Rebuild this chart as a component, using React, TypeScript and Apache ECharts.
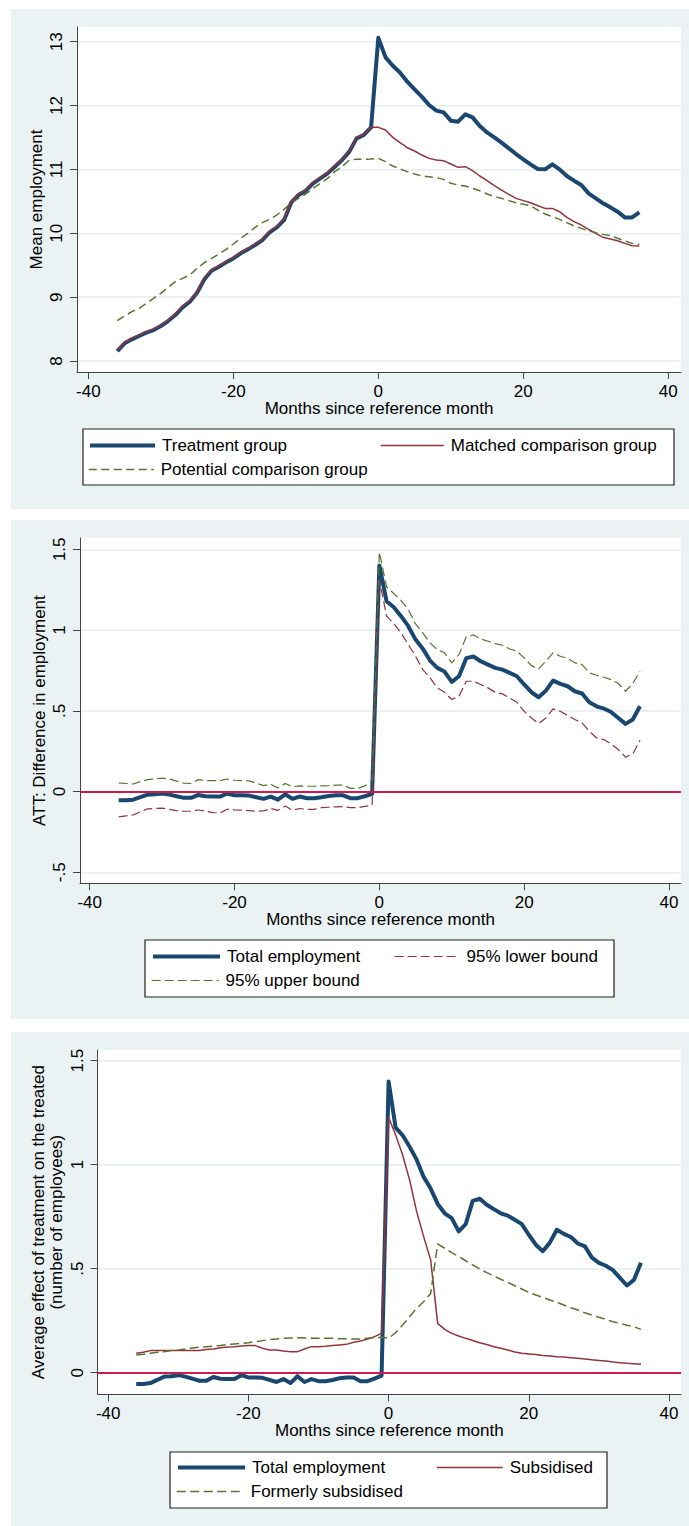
import React, { useEffect, useRef } from "react";
import * as echarts from "echarts";

// ---------- data ----------
const months = [
  -36, -35, -34, -33, -32, -31, -30, -29, -28, -27, -26, -25, -24, -23, -22, -21, -20, -19,
  -18, -17, -16, -15, -14, -13, -12, -11, -10, -9, -8, -7, -6, -5, -4, -3, -2, -1,
  0, 1, 2, 3, 4, 5, 6, 7, 8, 9, 10, 11, 12, 13, 14, 15, 16, 17, 18,
  19, 20, 21, 22, 23, 24, 25, 26, 27, 28, 29, 30, 31, 32, 33, 34, 35, 36,
];
const xTicks = [-40, -20, 0, 20, 40];
const p1YTicks = [8, 9, 10, 11, 12, 13];
const p2YTicks = [-0.5, 0, 0.5, 1, 1.5];
const p3YTicks = [0, 0.5, 1, 1.5];

// Panel 1: mean employment
const treatment = [
  8.156, 8.277, 8.339, 8.391, 8.444, 8.485, 8.548, 8.626, 8.72, 8.84, 8.929, 9.07, 9.279, 9.414,
  9.477, 9.545, 9.607, 9.686, 9.748, 9.816, 9.894, 10.015, 10.093, 10.208, 10.484, 10.599, 10.667,
  10.782, 10.86, 10.938, 11.043, 11.147, 11.278, 11.486, 11.539, 11.659,
  13.06, 12.755, 12.624, 12.515, 12.374, 12.254, 12.139, 12.008, 11.92, 11.893, 11.763, 11.747,
  11.862, 11.815, 11.68, 11.58, 11.502, 11.419, 11.33, 11.241, 11.158, 11.079, 11.006, 11.001,
  11.079, 11.001, 10.897, 10.824, 10.756, 10.625, 10.547, 10.469, 10.406, 10.338, 10.249, 10.249, 10.328,
];
const matched = [
  8.17, 8.29, 8.36, 8.41, 8.46, 8.5, 8.56, 8.64, 8.74, 8.86, 8.94, 9.08, 9.3, 9.43, 9.49, 9.56,
  9.62, 9.7, 9.76, 9.83, 9.91, 10.03, 10.11, 10.22, 10.5, 10.61, 10.68, 10.8, 10.87, 10.95, 11.06,
  11.16, 11.29, 11.5, 11.55, 11.66,
  11.659, 11.617, 11.502, 11.419, 11.34, 11.288, 11.225, 11.173, 11.147, 11.137, 11.085, 11.033,
  11.043, 10.98, 10.897, 10.824, 10.745, 10.677, 10.61, 10.547, 10.511, 10.479, 10.432, 10.39,
  10.39, 10.338, 10.249, 10.182, 10.129, 10.061, 9.999, 9.937, 9.911, 9.884, 9.842, 9.806, 9.801,
];
const potential = [
  8.632, 8.705, 8.773, 8.826, 8.903, 8.981, 9.059, 9.153, 9.242, 9.294, 9.347, 9.451, 9.54, 9.607,
  9.675, 9.748, 9.832, 9.92, 9.999, 10.093, 10.166, 10.218, 10.286, 10.375, 10.479, 10.547, 10.615,
  10.704, 10.782, 10.86, 10.965, 11.043, 11.147, 11.158, 11.158, 11.163,
  11.173, 11.121, 11.053, 11.006, 10.965, 10.928, 10.897, 10.886, 10.871, 10.844, 10.782, 10.756,
  10.74, 10.704, 10.667, 10.615, 10.573, 10.547, 10.511, 10.479, 10.453, 10.432, 10.364, 10.302,
  10.26, 10.218, 10.166, 10.114, 10.077, 10.04, 10.009, 9.983, 9.962, 9.921, 9.879, 9.842, 9.827,
];

// Panel 2 & 3: ATT on total employment, confidence bounds, components
const totalEmp = [
  -0.054, -0.054, -0.05, -0.035, -0.019, -0.017, -0.012, -0.019, -0.029, -0.039, -0.039, -0.021,
  -0.029, -0.031, -0.031, -0.012, -0.023, -0.023, -0.025, -0.035, -0.045, -0.031, -0.05, -0.017,
  -0.045, -0.031, -0.041, -0.041, -0.035, -0.027, -0.023, -0.023, -0.041, -0.041, -0.029, -0.014,
  1.4, 1.178, 1.141, 1.086, 1.024, 0.941, 0.885, 0.811, 0.766, 0.743, 0.679, 0.714, 0.826, 0.836,
  0.807, 0.786, 0.766, 0.755, 0.735, 0.714, 0.663, 0.615, 0.584, 0.625, 0.687, 0.667, 0.652, 0.621,
  0.607, 0.553, 0.528, 0.514, 0.493, 0.456, 0.419, 0.446, 0.528,
];
const upper95 = [
  0.054, 0.05, 0.047, 0.062, 0.074, 0.078, 0.083, 0.078, 0.065, 0.052, 0.05, 0.074, 0.068, 0.068,
  0.068, 0.078, 0.07, 0.068, 0.066, 0.052, 0.037, 0.045, 0.023, 0.05, 0.03, 0.035, 0.033, 0.033,
  0.035, 0.037, 0.04, 0.04, 0.02, 0.019, 0.035, 0.064,
  1.482, 1.267, 1.226, 1.183, 1.127, 1.038, 0.982, 0.921, 0.879, 0.859, 0.797, 0.848, 0.958, 0.97,
  0.945, 0.931, 0.916, 0.906, 0.883, 0.869, 0.828, 0.78, 0.76, 0.807, 0.859, 0.838, 0.824, 0.797,
  0.786, 0.735, 0.72, 0.708, 0.693, 0.669, 0.621, 0.669, 0.745,
];
const lower95 = [
  -0.157, -0.15, -0.145, -0.125, -0.107, -0.105, -0.103, -0.11, -0.118, -0.122, -0.122, -0.114,
  -0.122, -0.13, -0.132, -0.11, -0.113, -0.115, -0.118, -0.122, -0.12, -0.105, -0.116, -0.09,
  -0.115, -0.105, -0.11, -0.11, -0.1, -0.097, -0.095, -0.093, -0.1, -0.1, -0.092, -0.085,
  1.31, 1.086, 1.04, 0.982, 0.91, 0.838, 0.755, 0.704, 0.642, 0.615, 0.57, 0.59, 0.683, 0.683,
  0.663, 0.642, 0.615, 0.605, 0.58, 0.553, 0.497, 0.456, 0.421, 0.456, 0.512, 0.497, 0.471, 0.446,
  0.425, 0.374, 0.332, 0.322, 0.295, 0.26, 0.213, 0.233, 0.318,
];
const subsidised = [
  0.093, 0.098, 0.106, 0.107, 0.106, 0.106, 0.106, 0.106, 0.106, 0.107, 0.111, 0.114, 0.12, 0.123,
  0.125, 0.128, 0.13, 0.13, 0.117, 0.109, 0.109, 0.104, 0.101, 0.101, 0.114, 0.125, 0.125, 0.127,
  0.13, 0.133, 0.136, 0.146, 0.152, 0.162, 0.173, 0.189,
  1.228, 1.143, 1.046, 0.926, 0.774, 0.654, 0.542, 0.237, 0.208, 0.189, 0.176, 0.165, 0.155, 0.144,
  0.135, 0.125, 0.117, 0.109, 0.099, 0.093, 0.09, 0.087, 0.083, 0.08, 0.077, 0.075, 0.072, 0.069,
  0.066, 0.062, 0.059, 0.056, 0.051, 0.048, 0.045, 0.043, 0.04,
];
const formerly = [
  0.085, 0.088, 0.093, 0.098, 0.101, 0.106, 0.109, 0.114, 0.119, 0.122, 0.125, 0.128, 0.131, 0.135,
  0.138, 0.141, 0.144, 0.149, 0.154, 0.159, 0.162, 0.165, 0.167, 0.168, 0.167, 0.165, 0.165, 0.165,
  0.165, 0.163, 0.163, 0.162, 0.162, 0.165, 0.168, 0.17,
  0.165, 0.192, 0.229, 0.269, 0.309, 0.341, 0.381, 0.619, 0.598, 0.577, 0.558, 0.538, 0.518, 0.498,
  0.481, 0.465, 0.449, 0.434, 0.418, 0.402, 0.386, 0.373, 0.362, 0.349, 0.338, 0.325, 0.312, 0.301,
  0.288, 0.277, 0.266, 0.256, 0.245, 0.237, 0.228, 0.221, 0.208,
];

// ---------- styling ----------
const FONT = '"Liberation Sans", Arial, Helvetica, sans-serif';
const NAVY = "#1A476F";
const MAROON = "#90353B";
const GREEN = "#55752F";
const ZERO = "#CE1A4C";
const AXIS = "#444444";
const PANEL_BG = "#EAF2F3";
const GRIDLINE = "#E4EDEF";

function stataFmt(v: number): string {
  const r = Math.round(v * 100) / 100;
  if (r === 0) return "0";
  return String(r).replace(/^(-?)0\./, "$1.");
}

const pairs = (arr: number[]) => months.map((m, i) => [m, arr[i]]);

function xAxisCfg(gridIndex: number, min: number, max: number) {
  return {
    type: "value",
    gridIndex,
    min,
    max,
    name: "Months since reference month",
    nameLocation: "middle",
    nameGap: 28,
    nameMoveOverlap: false,
    nameTextStyle: { fontFamily: FONT, fontSize: 17, color: "#000" },
    axisLine: { show: true, onZero: false, lineStyle: { color: AXIS, width: 1 } },
    axisTick: { show: true, length: 7, lineStyle: { color: AXIS, width: 1 }, customValues: xTicks },
    axisLabel: {
      fontFamily: FONT,
      fontSize: 17,
      color: "#000",
      margin: 11,
      customValues: xTicks,
      formatter: stataFmt,
    },
    splitLine: { show: false },
  };
}

function yAxisCfg(gridIndex: number, min: number, max: number, name: string, ticks: number[]) {
  return {
    type: "value",
    gridIndex,
    min,
    max,
    name,
    nameLocation: "middle",
    nameGap: 32,
    nameRotate: 90,
    nameMoveOverlap: false,
    nameTextStyle: { fontFamily: FONT, fontSize: 17, color: "#000", lineHeight: 18 },
    axisLine: { show: true, onZero: false, lineStyle: { color: AXIS, width: 1 } },
    axisTick: { show: true, length: 7, lineStyle: { color: AXIS, width: 1 }, customValues: ticks },
    axisLabel: {
      fontFamily: FONT,
      fontSize: 17,
      color: "#000",
      rotate: 90,
      margin: 12,
      customValues: ticks,
      formatter: stataFmt,
    },
    splitLine: { show: true, lineStyle: { color: GRIDLINE, width: 1.5 } },
  };
}

function legendItem(name: string, left: number, top: number, itemWidth: number, width: number) {
  return {
    data: [name],
    left,
    top,
    orient: "horizontal",
    padding: 0,
    itemWidth,
    itemHeight: 18,
    selectedMode: false,
    textStyle: { fontFamily: FONT, fontSize: 17, color: "#000", padding: [0, 0, 0, 2] },
    lineStyle: { width },
    itemStyle: { opacity: 0, color: "transparent", borderWidth: 0 },
  };
}

function lineSeries(
  name: string,
  idx: number,
  data: number[],
  color: string,
  width: number,
  type: any = "solid"
) {
  return {
    type: "line",
    name,
    xAxisIndex: idx,
    yAxisIndex: idx,
    data: pairs(data),
    symbol: "none",
    showSymbol: false,
    smooth: false,
    z: 3,
    lineStyle: { color, width, type, join: "round" },
    itemStyle: { color },
    emphasis: { disabled: true },
  };
}

function zeroLine(idx: number) {
  return {
    type: "line",
    name: "zero" + idx,
    xAxisIndex: idx,
    yAxisIndex: idx,
    data: [],
    z: 2,
    markLine: {
      silent: true,
      symbol: ["none", "none"],
      label: { show: false },
      lineStyle: { color: ZERO, width: 2, type: "solid" },
      emphasis: { disabled: true },
      data: [{ yAxis: 0 }],
    },
  };
}

export default function App() {
  const ref = useRef<HTMLDivElement>(null);

  useEffect(() => {
    if (!ref.current) return;
    const chart = echarts.init(ref.current, undefined, { renderer: "svg" });
    const option: any = {
      animation: false,
      backgroundColor: "#ffffff",
      textStyle: { fontFamily: FONT },
      grid: [
        { left: 77, top: 27, width: 604, height: 345, show: true, backgroundColor: "#fff", borderWidth: 0, containLabel: false, outerBoundsMode: "none" },
        { left: 80, top: 538, width: 601, height: 345.3, show: true, backgroundColor: "#fff", borderWidth: 0, containLabel: false, outerBoundsMode: "none" },
        { left: 97.6, top: 1050, width: 583.4, height: 344.3, show: true, backgroundColor: "#fff", borderWidth: 0, containLabel: false, outerBoundsMode: "none" },
      ],
      xAxis: [
        xAxisCfg(0, -41.56, 41.75),
        xAxisCfg(1, -41.34, 41.66),
        xAxisCfg(2, -41.51, 41.71),
      ],
      yAxis: [
        yAxisCfg(0, 7.828, 13.23, "Mean employment", p1YTicks),
        yAxisCfg(1, -0.568, 1.57, "ATT: Difference in employment", p2YTicks),
        yAxisCfg(
          2,
          -0.104,
          1.551,
          "Average effect of treatment on the treated\n(number of employees)",
          p3YTicks
        ),
      ],
      legend: [
        legendItem("Treatment group", 88, 437, 65, 4),
        legendItem("Matched comparison group", 380, 437, 63, 1.5),
        legendItem("Potential comparison group", 88, 461, 65, 1.5),
        legendItem("Total employment", 151, 948, 67, 4),
        legendItem("95% lower bound", 394, 948, 65, 1.2),
        legendItem("95% upper bound", 151, 972, 67, 1.2),
        legendItem("Total employment ", 176, 1459, 67, 4),
        legendItem("Subsidised", 436, 1459, 66, 1.5),
        legendItem("Formerly subsidised", 176, 1483, 67, 1.5),
      ],
      graphic: [
        { type: "rect", z: -100, silent: true, shape: { x: 11, y: 9, width: 678, height: 500 }, style: { fill: PANEL_BG } },
        { type: "rect", z: -100, silent: true, shape: { x: 11, y: 520, width: 678, height: 499 }, style: { fill: PANEL_BG } },
        { type: "rect", z: -100, silent: true, shape: { x: 11, y: 1032, width: 678, height: 494 }, style: { fill: PANEL_BG } },
        { type: "rect", z: 1, silent: true, shape: { x: 83, y: 429, width: 591, height: 56 }, style: { fill: "#fff", stroke: "#222", lineWidth: 1.2 } },
        { type: "rect", z: 1, silent: true, shape: { x: 145, y: 940, width: 469, height: 57 }, style: { fill: "#fff", stroke: "#222", lineWidth: 1.2 } },
        { type: "rect", z: 1, silent: true, shape: { x: 170, y: 1452, width: 437, height: 56 }, style: { fill: "#fff", stroke: "#222", lineWidth: 1.2 } },
      ],
      series: [
        lineSeries("Treatment group", 0, treatment, NAVY, 4),
        lineSeries("Matched comparison group", 0, matched, MAROON, 1.5),
        lineSeries("Potential comparison group", 0, potential, GREEN, 1.5, [8, 4.5]),
        zeroLine(1),
        lineSeries("Total employment", 1, totalEmp, NAVY, 4),
        lineSeries("95% lower bound", 1, lower95, MAROON, 1.2, [9, 4]),
        lineSeries("95% upper bound", 1, upper95, GREEN, 1.2, [9, 4]),
        zeroLine(2),
        lineSeries("Total employment ", 2, totalEmp, NAVY, 4),
        lineSeries("Subsidised", 2, subsidised, MAROON, 1.5),
        lineSeries("Formerly subsidised", 2, formerly, GREEN, 1.5, [9, 4.5]),
      ],
    };
    chart.setOption(option);
    return () => {
      chart.dispose();
    };
  }, []);

  return (
    <div
      ref={ref}
      style={{
        position: "absolute",
        left: 0,
        top: 0,
        width: 689,
        height: 1526,
        background: "#ffffff",
      }}
    />
  );
}
